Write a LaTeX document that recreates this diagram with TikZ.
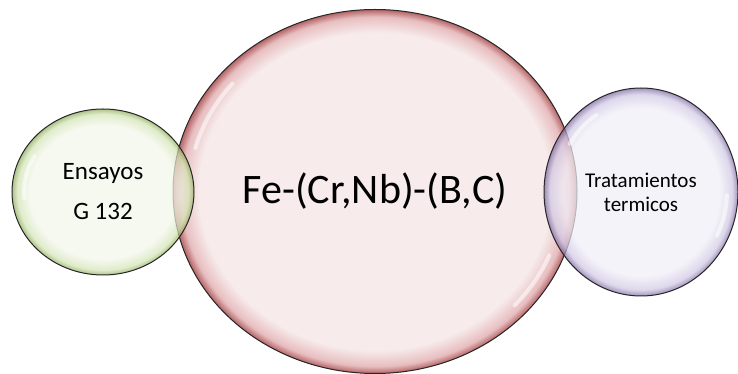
\documentclass[tikz,border=0pt]{standalone}
\usepackage{fontspec}
\setmainfont{Carlito}
\usetikzlibrary{shapes.geometric,calc}
\definecolor{pinkin}{RGB}{247,235,235}
\definecolor{pinkmid}{RGB}{232,190,192}
\definecolor{pinkout}{RGB}{180,100,102}
\definecolor{greenin}{RGB}{242,246,234}
\definecolor{greenmid}{RGB}{212,228,182}
\definecolor{greenout}{RGB}{140,172,90}
\definecolor{violetin}{RGB}{240,238,246}
\definecolor{violetmid}{RGB}{208,200,228}
\definecolor{violetout}{RGB}{125,105,162}
\pgfdeclareradialshading{pinkbubble}{\pgfpoint{0bp}{0bp}}{color(0bp)=(pinkin); color(21.8bp)=(pinkin); color(24bp)=(pinkmid); color(25bp)=(pinkout); color(50bp)=(pinkout)}
\pgfdeclareradialshading{greenbubble}{\pgfpoint{0bp}{0bp}}{color(0bp)=(greenin); color(20.2bp)=(greenin); color(23.5bp)=(greenmid); color(25bp)=(greenout); color(50bp)=(greenout)}
\pgfdeclareradialshading{violetbubble}{\pgfpoint{0bp}{0bp}}{color(0bp)=(violetin); color(20.2bp)=(violetin); color(23.5bp)=(violetmid); color(25bp)=(violetout); color(50bp)=(violetout)}
\tikzset{
  bubble/.style={ellipse, draw=black!85, line width=1pt, align=center, inner sep=0pt, shade},
  pinkball/.style={bubble, shading=pinkbubble},
  greenball/.style={bubble, shading=greenbubble, fill opacity=0.72, text opacity=1},
  violetball/.style={bubble, shading=violetbubble, fill opacity=0.72, text opacity=1},
  glare/.style={white, line width=4pt, line cap=round, opacity=0.55},
}

\begin{document}
\begin{tikzpicture}[x=1pt, y=1pt]
  \useasboundingbox (0,0) rectangle (738,374);

  % Central alloy
  \node[pinkball, minimum width=404, minimum height=364, font=\fontsize{42}{48}\selectfont] (alloy) at (375,182.5)
    {Fe-(Cr,Nb)-(B,C)};

  % Side bubbles
  \node[greenball, minimum width=182, minimum height=166, font=\fontsize{25}{40}\selectfont] (tests) at (103,182)
    {Ensayos\\ G 132};
  \node[violetball, minimum width=194, minimum height=208, font=\fontsize{21}{24}\selectfont] (heat) at (641,182)
    {Tratamientos\\ termicos};

  % Glares
  \draw[glare] ($(alloy.center)+(140:186 and 168)$) arc[start angle=140, end angle=165, x radius=186, y radius=168];
  \draw[glare] ($(alloy.center)+(-42:188 and 170)$) arc[start angle=-42, end angle=-22, x radius=188, y radius=170];
  \draw[glare] ($(tests.center)+(150:79 and 72)$) arc[start angle=150, end angle=185, x radius=79, y radius=72];
  \draw[glare] ($(heat.center)+(122:84 and 91)$) arc[start angle=122, end angle=148, x radius=84, y radius=91];
  \draw[glare] ($(heat.center)+(-28:86 and 93)$) arc[start angle=-28, end angle=-2, x radius=86, y radius=93];
\end{tikzpicture}
\end{document}
